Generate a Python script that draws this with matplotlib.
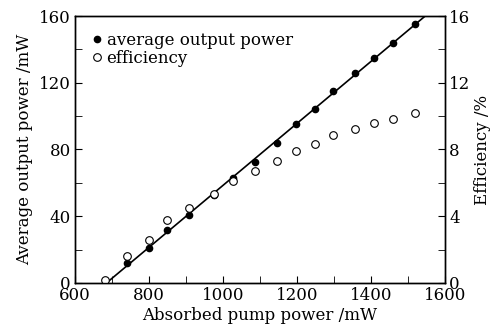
import matplotlib
matplotlib.use("Agg")
import matplotlib.pyplot as plt
import numpy as np

# absorbed pump power (mW)
pump = [740, 799, 850, 909, 977, 1027, 1086, 1146, 1197, 1248, 1298, 1357, 1408, 1459, 1519]
# average output power (mW)
power = [11.8, 21.2, 32.0, 41.0, 52.7, 63.0, 72.7, 83.7, 95.0, 104.0, 115.0, 126.0, 134.8, 143.8, 155.0]
# efficiency (%) incl. first point near threshold
pump_eff = [681, 740, 799, 850, 909, 977, 1027, 1086, 1146, 1197, 1248, 1298, 1357, 1408, 1459, 1519]
eff = [0.18, 1.6, 2.6, 3.76, 4.5, 5.33, 6.1, 6.7, 7.3, 7.93, 8.3, 8.85, 9.25, 9.57, 9.83, 10.17]

plt.rcParams['font.family'] = 'DejaVu Serif'
plt.rcParams['mathtext.fontset'] = 'dejavuserif'

fig = plt.figure(figsize=(4.96, 3.34), dpi=100)
ax = fig.add_axes([0.151, 0.153, 0.746, 0.799])
ax2 = ax.twinx()

# linear fit of output power
k, b = np.polyfit(pump, power, 1)
x0 = -b / k
xfit = np.array([x0, 1600])
ax.plot(xfit, k * xfit + b, color='black', lw=1.2)

l1, = ax.plot(pump, power, 'o', color='black', ms=4.5, ls='none')
l2, = ax2.plot(pump_eff, eff, 'o', mfc='white', mec='black', mew=0.8, ms=5.5, ls='none')

ax.set_xlim(600, 1600)
ax.set_ylim(0, 160)
ax2.set_ylim(0, 16)
ax.set_xticks(np.arange(600, 1601, 200))
ax.set_xticks(np.arange(600, 1601, 100), minor=True)
ax.set_yticks(np.arange(0, 161, 40))
ax.set_yticks(np.arange(0, 161, 20), minor=True)
ax2.set_yticks(np.arange(0, 17, 4))
ax2.set_yticks(np.arange(0, 17, 2), minor=True)

ax.tick_params(which='both', direction='in', labelsize=12, top=False, right=False, pad=3)
ax.tick_params(which='major', length=5)
ax.tick_params(which='minor', length=5)
ax2.tick_params(which='both', direction='in', labelsize=12, length=5, pad=3)

ax.set_xlabel('Absorbed pump power /mW', fontsize=12, labelpad=2)
ax.set_ylabel('Average output power /mW', fontsize=12, labelpad=4)
ax2.set_ylabel('Efficiency /%', fontsize=12, labelpad=3)

leg = ax.legend([l1, l2], ['average output power', 'efficiency'], loc='upper left',
                bbox_to_anchor=(0.0, 0.985),
                frameon=False, fontsize=12, handletextpad=0.0, handlelength=1.2,
                borderaxespad=0.3, labelspacing=0.05)

for a in (ax, ax2):
    for s in a.spines.values():
        s.set_linewidth(1.0)

fig.savefig('out.png', dpi=100)
